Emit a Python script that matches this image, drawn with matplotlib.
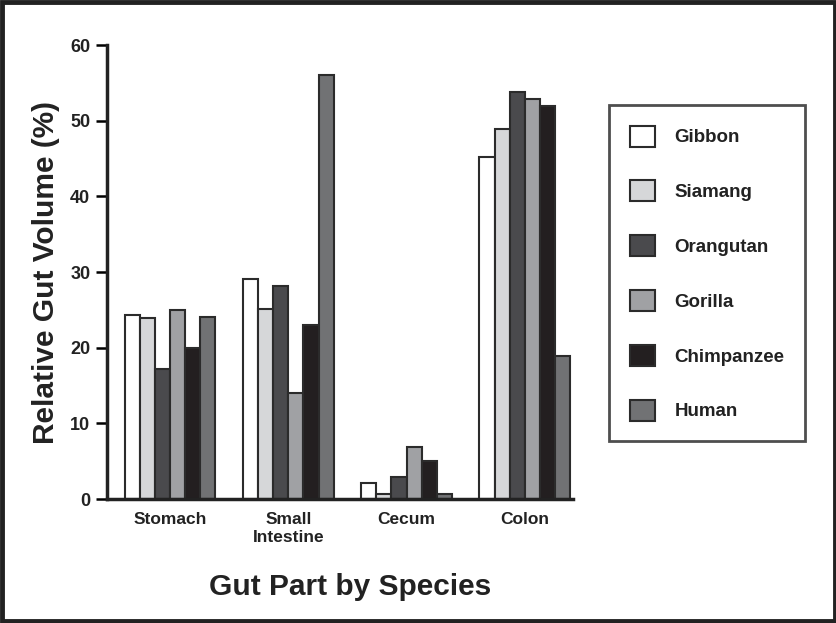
import matplotlib.pyplot as plt
from matplotlib.patches import Rectangle
import numpy as np

# Данные
gut_parts = ['Stomach', 'Small\nIntestine', 'Cecum', 'Colon']
species = ['Gibbon', 'Siamang', 'Orangutan', 'Gorilla', 'Chimpanzee', 'Human']
gibbon = [24.3, 29.1, 2.1, 45.2]
siamang = [23.9, 25.1, 0.7, 48.9]
orangutan = [17.2, 28.1, 2.9, 53.8]
gorilla = [25.0, 14.0, 6.9, 52.9]
chimpanzee = [20.0, 23.0, 5.0, 52.0]
human = [24.0, 56.1, 0.7, 18.9]
values = [gibbon, siamang, orangutan, gorilla, chimpanzee, human]
colors = ['#ffffff', '#d6d7d9', '#4a4a4d', '#a0a1a4', '#231f20', '#717274']

plt.rcParams['font.family'] = ['Liberation Sans', 'DejaVu Sans']

fig = plt.figure(figsize=(8.37, 6.23), dpi=100)
ax = fig.add_axes([0.1278, 0.199, 0.5568, 0.7287])

x = np.arange(len(gut_parts))
width = 0.128
for i, (name, vals, c) in enumerate(zip(species, values, colors)):
    offset = (i - 2.5) * width
    ax.bar(x + offset, vals, width=width, color=c, edgecolor='#2b2b2b',
           linewidth=1.5, label=name)

ax.set_xlim(-0.533, 3.407)
ax.set_ylim(0, 60)
ax.set_yticks(range(0, 61, 10))
ax.set_xticks(x)
ax.set_xticklabels(gut_parts, fontsize=12.5, fontweight='bold', color='#222222',
                   linespacing=1.25)
ax.tick_params(axis='x', length=0, pad=9)
ax.tick_params(axis='y', direction='out', length=8, width=1.8, labelsize=13,
               labelcolor='#222222', pad=4)
for lbl in ax.get_yticklabels():
    lbl.set_fontweight('bold')
for s in ['top', 'right']:
    ax.spines[s].set_visible(False)
for s in ['left', 'bottom']:
    ax.spines[s].set_linewidth(2.5)
    ax.spines[s].set_color('#222222')

ax.set_ylabel('Relative Gut Volume (%)', fontsize=21.5, fontweight='bold',
              color='#222222', labelpad=7)
fig.text(0.418, 0.058, 'Gut Part by Species', fontsize=21.5, fontweight='bold',
         color='#222222', ha='center', va='center')

leg = fig.legend(loc='upper left', bbox_to_anchor=(609 / 837, 1 - 105 / 623),
                 frameon=True, fancybox=False, edgecolor='#222222',
                 handlelength=1.35, handleheight=1.35, labelspacing=1.8,
                 borderpad=1.1, handletextpad=1.05, borderaxespad=0,
                 prop={'weight': 'bold', 'size': 13.5})
leg.get_frame().set_linewidth(2)
for t in leg.get_texts():
    t.set_color('#222222')

# Рамка вокруг рисунка
fig.patches.append(Rectangle((0.002, 0.003), 0.996, 0.994, transform=fig.transFigure,
                             fill=False, edgecolor='#222222', linewidth=3.5))

fig.savefig('out.png', dpi=100)
